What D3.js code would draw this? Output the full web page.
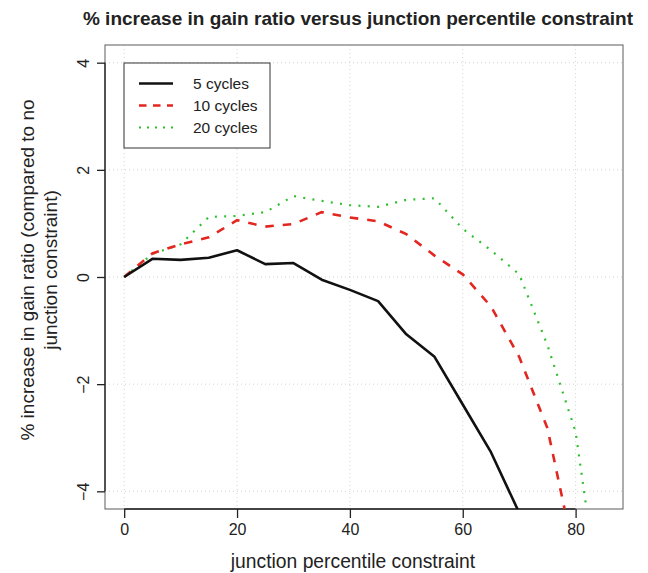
<!DOCTYPE html>
<html>
<head>
<meta charset="utf-8">
<script src="https://cdn.jsdelivr.net/npm/d3@7"></script>
<style>
  body { margin: 0; background: #fff; }
  svg { font-family: "Liberation Sans", Arial, Helvetica, sans-serif; }
</style>
</head>
<body>
<div class="section"></div>
<script>
// data
var xs = [0, 5, 10, 15, 20, 25, 30, 35, 40, 45, 50, 55, 60, 65, 70, 75, 80, 85];
var cycles5 = [0, 0.34, 0.32, 0.36, 0.50, 0.24, 0.26, -0.05, -0.24, -0.45, -1.07, -1.49, -2.38, -3.27, -4.4];
var cycles10 = [0, 0.44, 0.61, 0.74, 1.06, 0.94, 0.99, 1.21, 1.11, 1.04, 0.80, 0.40, 0.05, -0.55, -1.49, -2.82, -5.3];
var cycles20 = [0, 0.43, 0.61, 1.12, 1.14, 1.21, 1.51, 1.42, 1.34, 1.31, 1.44, 1.47, 0.90, 0.50, 0.05, -1.27, -2.89, -6.6];
var seriesNames = ["5 cycles", "10 cycles", "20 cycles"];
var xTicks = [0, 20, 40, 60, 80];
var yTicks = [-4, -2, 0, 2, 4];

var width = 648, height = 573;
var pLeft = 105, pRight = 623, pTop = 45, pBottom = 509;

var svg = d3.select(".section").append("svg")
    .attr("width", width)
    .attr("height", height);

var x = d3.scaleLinear().domain([-3.4, 88.4]).range([pLeft, pRight]);
var y = d3.scaleLinear().domain([-4.33, 4.33]).range([pBottom, pTop]);

// grid
svg.append("g").selectAll("line").data(xTicks).enter().append("line")
    .attr("x1", function(d){ return x(d); }).attr("x2", function(d){ return x(d); })
    .attr("y1", pTop).attr("y2", pBottom)
    .attr("stroke", "#d4d4d4").attr("stroke-width", 1).attr("stroke-dasharray", "1,3");
svg.append("g").selectAll("line").data(yTicks).enter().append("line")
    .attr("y1", function(d){ return y(d); }).attr("y2", function(d){ return y(d); })
    .attr("x1", pLeft).attr("x2", pRight)
    .attr("stroke", "#d4d4d4").attr("stroke-width", 1).attr("stroke-dasharray", "1,3");

// box
svg.append("rect")
    .attr("x", pLeft).attr("y", pTop)
    .attr("width", pRight - pLeft).attr("height", pBottom - pTop)
    .attr("fill", "none").attr("stroke", "#777").attr("stroke-width", 1.2);

// axes
var xAxis = d3.axisBottom(x).tickValues(xTicks).tickSize(9).tickPadding(6).tickFormat(d3.format("d"));
var gx = svg.append("g").attr("transform", "translate(0," + pBottom + ")").call(xAxis);
gx.select(".domain").attr("d", "M" + x(0) + ",0H" + x(80)).attr("stroke", "#222").attr("stroke-width", 1.3);
gx.selectAll(".tick line").attr("stroke", "#222").attr("stroke-width", 1.3);
gx.selectAll(".tick text").attr("font-size", 16).attr("fill", "#222")
    .attr("font-family", "Liberation Sans, Arial, sans-serif");

var yAxis = d3.axisLeft(y).tickValues(yTicks).tickSize(8).tickFormat(function(d){ return d < 0 ? "\u2212" + Math.abs(d) : d; });
var gy = svg.append("g").attr("transform", "translate(" + pLeft + ",0)").call(yAxis);
gy.select(".domain").attr("d", "M0," + y(-4) + "V" + y(4)).attr("stroke", "#222").attr("stroke-width", 1.3);
gy.selectAll(".tick line").attr("stroke", "#222").attr("stroke-width", 1.3);
gy.selectAll(".tick text")
    .attr("font-size", 16).attr("fill", "#222")
    .attr("font-family", "Liberation Sans, Arial, sans-serif")
    .attr("x", null).attr("dy", null)
    .attr("text-anchor", "middle")
    .attr("transform", "translate(-16,0) rotate(-90)");

// lines
svg.append("clipPath").attr("id", "plotclip").append("rect")
    .attr("x", pLeft).attr("y", pTop).attr("width", pRight - pLeft).attr("height", pBottom - pTop);

var line = d3.line()
    .x(function(d, i){ return x(xs[i]); })
    .y(function(d){ return y(d); });

var lines = svg.append("g").attr("clip-path", "url(#plotclip)");
lines.append("path").datum(cycles20).attr("d", line)
    .attr("fill", "none").attr("stroke", "#2fbf2f").attr("stroke-width", 2.2).attr("stroke-dasharray", "2,7.3");
lines.append("path").datum(cycles10).attr("d", line)
    .attr("fill", "none").attr("stroke", "#e3261f").attr("stroke-width", 2.6).attr("stroke-dasharray", "8.5,9");
lines.append("path").datum(cycles5).attr("d", line)
    .attr("fill", "none").attr("stroke", "#111").attr("stroke-width", 2.6).attr("stroke-linejoin", "round");

// legend
var legColors = ["#111", "#e3261f", "#2fbf2f"];
var legDash = [null, "7.5,6.5", "2,6"];
var legWidth = [2.6, 2.6, 2.2];
var leg = svg.append("g");
leg.append("rect").attr("x", 124).attr("y", 63).attr("width", 146).attr("height", 85)
    .attr("fill", "#fff").attr("stroke", "#333").attr("stroke-width", 1);
var items = leg.selectAll("g.item").data(seriesNames).enter().append("g")
    .attr("transform", function(d, i){ return "translate(0," + (83.5 + i * 22) + ")"; });
items.append("line").attr("x1", 139).attr("x2", 173).attr("y1", 0).attr("y2", 0)
    .attr("stroke", function(d, i){ return legColors[i]; })
    .attr("stroke-width", function(d, i){ return legWidth[i]; })
    .attr("stroke-dasharray", function(d, i){ return legDash[i]; });
items.append("text").attr("x", 193).attr("y", 5.5)
    .attr("font-size", 15.5).attr("fill", "#222").text(function(d){ return d; });

// titles
svg.append("text").attr("x", 358).attr("y", 25).attr("text-anchor", "middle")
    .attr("font-size", 19).attr("font-weight", "bold").attr("fill", "#222")
    .text("% increase in gain ratio versus junction percentile constraint");
svg.append("text").attr("x", 353).attr("y", 568).attr("text-anchor", "middle")
    .attr("font-size", 19.3).attr("fill", "#222")
    .text("junction percentile constraint");
svg.append("text").attr("transform", "translate(34,270) rotate(-90)").attr("text-anchor", "middle")
    .attr("font-size", 19).attr("fill", "#222")
    .text("% increase in gain ratio (compared to no");
svg.append("text").attr("transform", "translate(57,270) rotate(-90)").attr("text-anchor", "middle")
    .attr("font-size", 19).attr("fill", "#222")
    .text("junction constraint)");
</script>
</body>
</html>
